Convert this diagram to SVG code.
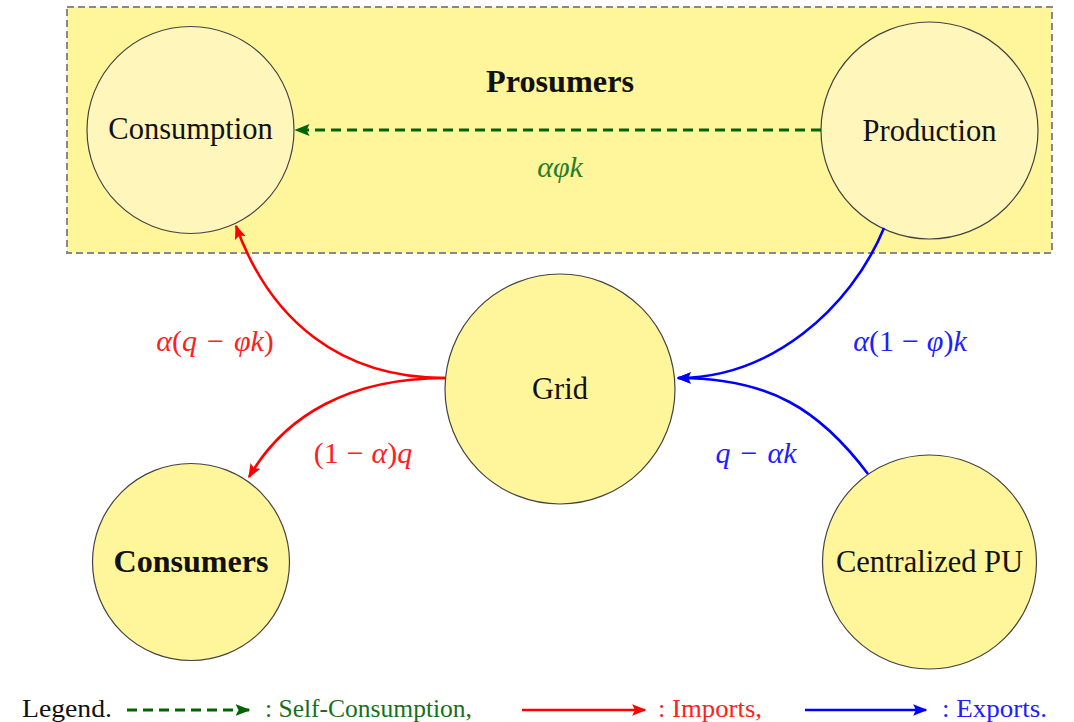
<svg xmlns="http://www.w3.org/2000/svg" width="1074" height="722" viewBox="0 0 1074 722">
<style>
text{font-family:'Liberation Serif','Times New Roman','DejaVu Serif',serif}
.lbl{font-size:30.5px;fill:#111;text-anchor:middle;dominant-baseline:central}
.b{font-weight:bold}
.node{fill:#fff59a;stroke:#444;stroke-width:1.2}
.inner{fill:#fff6bb;stroke:#444;stroke-width:1.2}
.math{font-size:30px;font-style:italic;text-anchor:middle;dominant-baseline:central}
.up{font-style:normal}
.leg{font-size:26px}
.g{stroke:#006400;stroke-width:3;fill:none;stroke-dasharray:10,6}
.r{stroke:#ff0000;stroke-width:2.6;fill:none}
.bl{stroke:#0000ff;stroke-width:2.6;fill:none}
</style>
<defs>
<marker id="ag" viewBox="0 0 10 10" refX="9" refY="5" markerWidth="5" markerHeight="5" orient="auto" markerUnits="strokeWidth"><path d="M0,1 L10,5 L0,9 L2,5 Z" fill="#006400"/></marker>
<marker id="ar" viewBox="0 0 10 10" refX="9" refY="5" markerWidth="5.5" markerHeight="5.5" orient="auto" markerUnits="strokeWidth"><path d="M0,1 L10,5 L0,9 L2,5 Z" fill="#ff0000"/></marker>
<marker id="ab" viewBox="0 0 10 10" refX="9" refY="5" markerWidth="5.5" markerHeight="5.5" orient="auto" markerUnits="strokeWidth"><path d="M0,1 L10,5 L0,9 L2,5 Z" fill="#0000ff"/></marker>
</defs>
<rect width="1074" height="722" fill="#fff"/>
<g id="prosumers">
<rect x="67" y="7" width="985" height="246" fill="#fff59a" stroke="#888" stroke-width="2" stroke-dasharray="7,4"/>
<text class="lbl b" x="560" y="82" textLength="148" lengthAdjust="spacingAndGlyphs">Prosumers</text>
</g>
<g id="consumption">
<circle class="inner" cx="190.5" cy="130" r="103.5"/>
<text class="lbl" x="190.5" y="129">Consumption</text>
</g>
<g id="production">
<circle class="inner" cx="929.5" cy="130.5" r="108.5"/>
<text class="lbl" x="929.5" y="131">Production</text>
</g>
<g id="grid">
<circle class="node" cx="560" cy="389" r="115"/>
<text class="lbl" x="560" y="389">Grid</text>
</g>
<g id="consumers">
<circle class="node" cx="191" cy="562" r="98.5"/>
<text class="lbl b" x="191" y="562" textLength="155" lengthAdjust="spacingAndGlyphs">Consumers</text>
</g>
<g id="centralized-pu">
<circle class="node" cx="929.5" cy="562" r="107"/>
<text class="lbl" x="929.5" y="562">Centralized PU</text>
</g>
<g id="connectors">
<path class="g" d="M821,130 L296,130" marker-end="url(#ag)"/>
<path class="r" d="M445,378 C340,378 270,320 236,226" marker-end="url(#ar)"/>
<path class="r" d="M445,378 C350,378 285,415 249,477" marker-end="url(#ar)"/>
<path class="bl" d="M884,228 C850,310 770,378 678,378" marker-end="url(#ab)"/>
<path class="bl" d="M868,474 C820,410 770,378 678,378" marker-end="url(#ab)"/>
<text class="math" x="560" y="166" fill="#2a7d2a">αφk</text>
<text class="math" x="215" y="340" fill="#ff2020">α<tspan class="up">(</tspan>q<tspan class="up" dx="10">−</tspan><tspan dx="10">φk</tspan><tspan class="up">)</tspan></text>
<text class="math" x="363" y="452" fill="#ff2020"><tspan class="up">(1</tspan><tspan class="up" dx="8">−</tspan><tspan dx="8">α</tspan><tspan class="up">)</tspan>q</text>
<text class="math" x="910" y="340" fill="#2020ff">α<tspan class="up">(1</tspan><tspan class="up" dx="8">−</tspan><tspan dx="8">φ</tspan><tspan class="up">)</tspan>k</text>
<text class="math" x="756" y="452" fill="#2020ff">q<tspan class="up" dx="10">−</tspan><tspan dx="10">αk</tspan></text>
</g>
<g id="legend">
<text class="leg" x="22" y="717" font-size="29" fill="#111" textLength="90" lengthAdjust="spacingAndGlyphs">Legend.</text>
<path class="g" d="M127,710 L249,710" stroke-width="2.8" stroke-dasharray="8,5" marker-end="url(#ag)"/>
<text class="leg" x="265" y="717" fill="#1a6e1a" textLength="207" lengthAdjust="spacingAndGlyphs">: Self-Consumption,</text>
<path class="r" d="M522,710 L645,710" marker-end="url(#ar)"/>
<text class="leg" x="658" y="717" fill="#ff2020" textLength="104" lengthAdjust="spacingAndGlyphs">: Imports,</text>
<path class="bl" d="M805,710 L926,710" marker-end="url(#ab)"/>
<text class="leg" x="942" y="717" fill="#2020ff" textLength="105" lengthAdjust="spacingAndGlyphs">: Exports.</text>
</g>
</svg>
